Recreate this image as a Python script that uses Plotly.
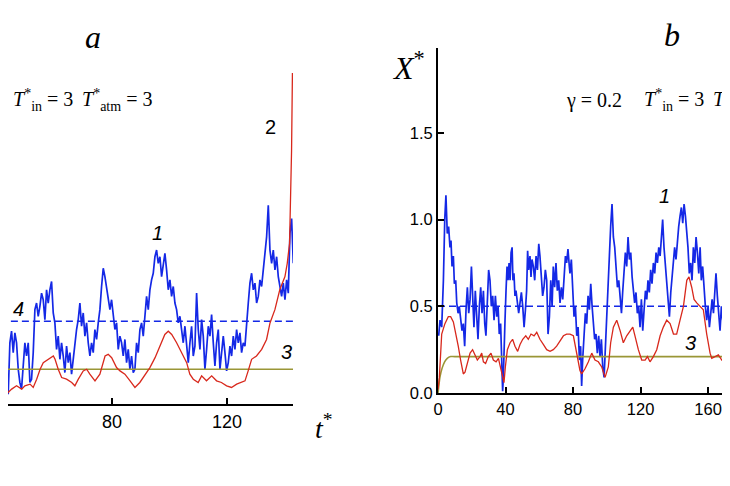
import numpy as np
import plotly.graph_objects as go

# ---------------- panel a (left, cropped) ----------------
# curve 1: X*(t), noisy, sampled on a uniform time grid
blue_a_t0, blue_a_t1 = 41.0, 143.1
blue_a_y = [
    0.45, 0.31, 0.21, 0.13, 0.07, 0.06, 0.37, 0.44, 0.31, 0.43,
    0.37, 0.21, 0.13, 0.09, 0.25, 0.37, 0.29, 0.37, 0.13, 0.15,
    0.31, 0.57, 0.61, 0.53, 0.59, 0.67, 0.63, 0.51, 0.69, 0.61,
    0.69, 0.74, 0.55, 0.49, 0.33, 0.41, 0.27, 0.37, 0.29, 0.19,
    0.35, 0.25, 0.31, 0.18, 0.27, 0.37, 0.45, 0.51, 0.61, 0.47,
    0.55, 0.41, 0.49, 0.37, 0.29, 0.37, 0.31, 0.45, 0.39, 0.49,
    0.57, 0.71, 0.82, 0.77, 0.71, 0.65, 0.57, 0.63, 0.53, 0.45,
    0.49, 0.33, 0.41, 0.37, 0.29, 0.39, 0.25, 0.33, 0.21, 0.29,
    0.19, 0.21, 0.37, 0.31, 0.45, 0.49, 0.41, 0.55, 0.65, 0.57,
    0.69, 0.75, 0.79, 0.89, 0.93, 0.85, 0.89, 0.77, 0.85, 0.91,
    0.81, 0.69, 0.75, 0.65, 0.71, 0.61, 0.57, 0.49, 0.53, 0.43,
    0.37, 0.47, 0.33, 0.25, 0.37, 0.47, 0.29, 0.35, 0.67, 0.45,
    0.33, 0.51, 0.41, 0.21, 0.33, 0.47, 0.41, 0.54, 0.37, 0.23,
    0.37, 0.45, 0.21, 0.31, 0.41, 0.31, 0.20, 0.25, 0.35, 0.29,
    0.41, 0.33, 0.45, 0.37, 0.43, 0.31, 0.37, 0.35, 0.51, 0.61,
    0.73, 0.79, 0.69, 0.73, 0.61, 0.65, 0.75, 0.71, 0.81, 0.91,
    1.01, 1.20, 0.93, 0.85, 0.93, 0.81, 0.89, 0.77, 0.71, 0.65,
    0.73, 0.63, 0.75, 0.67, 1.03, 1.12, 0.85,
]
blue_a_t = np.linspace(blue_a_t0, blue_a_t1, len(blue_a_y))

# curve 2
red_a_t = [
    41.0, 42.2, 43.4, 43.9, 45.1, 46.8, 48.6, 49.7, 51.5, 52.6,
    53.8, 55.0, 56.1, 58.4, 59.6, 60.2, 61.3, 62.5, 64.2, 66.0,
    67.1, 68.3, 70.0, 71.2, 72.3, 74.1, 75.8, 77.6, 78.7, 79.9,
    81.6, 82.8, 84.5, 86.3, 88.0, 89.7, 91.5, 93.2, 95.0, 96.7,
    98.4, 99.6, 100.8, 102.5, 104.2, 106.0, 107.1, 108.3, 110.0, 111.2,
    112.9, 114.7, 116.4, 118.1, 119.9, 121.6, 123.4, 125.1, 126.3, 127.4,
    128.6, 130.3, 132.1, 133.8, 135.0, 136.7, 138.4, 140.2, 141.0, 141.8,
    142.2, 142.5, 142.8,
]
red_a_y = [
    0.22, 0.17, 0.09, 0.07, 0.09, 0.11, 0.09, 0.11, 0.12, 0.10,
    0.15, 0.21, 0.25, 0.28, 0.29, 0.27, 0.21, 0.16, 0.15, 0.13,
    0.11, 0.15, 0.20, 0.21, 0.18, 0.14, 0.18, 0.29, 0.30, 0.28,
    0.22, 0.20, 0.18, 0.14, 0.10, 0.13, 0.18, 0.22, 0.28, 0.35,
    0.42, 0.44, 0.42, 0.37, 0.31, 0.25, 0.18, 0.15, 0.13, 0.17,
    0.14, 0.17, 0.14, 0.13, 0.11, 0.10, 0.12, 0.13, 0.14, 0.20,
    0.27, 0.29, 0.33, 0.39, 0.49, 0.57, 0.69, 0.77, 0.85, 0.97,
    1.23, 1.53, 2.0,
]

# curves 3 and 4 (levels)
level3_a_t = [41.0, 143.0]
level3_a_y = [0.21, 0.21]
level4_a_t = [41.0, 143.0]
level4_a_y = [0.5, 0.5]

# ---------------- panel b (right, cropped) ----------------
blue_b_t = [
    0.4, 1.2, 2.2, 3.2, 4.0, 4.7, 5.5, 6.3, 7.1, 7.7,
    8.3, 9.1, 9.7, 10.5, 11.1, 11.9, 12.6, 13.4, 14.2, 15.0,
    15.8, 16.6, 17.4, 18.2, 19.0, 19.8, 20.5, 21.3, 22.1, 22.9,
    23.7, 24.5, 25.3, 26.1, 26.9, 27.7, 28.4, 29.2, 30.0, 30.8,
    31.6, 32.4, 33.2, 34.0, 34.8, 35.6, 36.3, 37.1, 37.9, 38.3,
    38.7, 39.1, 39.7, 40.3, 40.9, 41.5, 42.1, 42.7, 43.3, 43.9,
    44.4, 45.0, 45.6, 46.2, 47.0, 47.8, 48.6, 49.4, 50.2, 51.0,
    51.8, 52.5, 53.1, 53.7, 54.5, 55.1, 55.7, 56.5, 57.3, 58.1,
    58.9, 59.7, 60.4, 61.2, 62.0, 62.8, 63.6, 64.4, 65.2, 66.0,
    66.8, 67.6, 68.3, 69.1, 69.9, 70.7, 71.5, 72.3, 73.1, 73.9,
    74.7, 75.5, 76.2, 77.0, 77.8,
    78.2, 79.0, 79.8, 80.6, 81.4, 82.2, 83.0, 83.8, 84.5, 85.1,
    85.7, 86.5, 87.3, 88.1, 88.9, 89.7, 90.5, 91.3, 92.0, 92.8,
    93.6, 94.4, 95.2, 96.0, 96.8, 97.6, 98.4, 99.2, 100.0, 100.7,
    101.5, 102.3, 103.1, 103.9, 104.7, 105.5, 106.3, 107.1, 107.9, 108.7,
    109.4, 110.2, 111.0, 111.8, 112.6, 113.4, 114.2, 115.0, 115.7, 116.5,
    117.3, 118.1, 118.9, 119.7, 120.5, 121.3, 122.1, 122.9, 123.7, 124.4,
    125.2, 126.0, 126.8, 127.6, 128.4, 129.2, 130.0, 130.8, 131.6, 132.3,
    133.1, 133.9, 134.7, 135.5, 136.3, 137.1, 137.9, 138.7, 139.5, 140.2,
    141.0, 141.8, 142.6, 143.4, 144.2, 145.0, 145.8, 146.6, 147.4, 148.1,
    148.9, 149.7, 150.5, 151.3, 152.1, 152.9, 153.7, 154.5, 155.3, 156.0,
    156.8, 157.6, 158.4, 159.2, 160.0, 160.8, 161.6, 162.4, 163.2, 163.9,
    164.7, 165.5, 166.3, 167.1, 167.9, 168.7, 169.5, 170.3, 171.1, 171.9,
    172.6,
]
blue_b_y = [
    0.33, 0.42, 0.38, 0.65, 1.00, 1.14, 0.92, 0.96, 0.84, 0.88,
    0.73, 0.79, 0.63, 0.65, 0.52, 0.46, 0.50, 0.42, 0.36, 0.40,
    0.27, 0.48, 0.61, 0.46, 0.54, 0.73, 0.56, 0.38, 0.59, 0.42,
    0.31, 0.50, 0.61, 0.46, 0.59, 0.40, 0.33, 0.52, 0.71, 0.65,
    0.50, 0.56, 0.42, 0.56, 0.44, 0.50, 0.34, 0.40, 0.19, 0.01,
    0.09, 0.27, 0.42, 0.59, 0.73, 0.65, 0.75, 0.65, 0.81, 0.84,
    0.65, 0.69, 0.56, 0.59, 0.52, 0.46, 0.52, 0.58, 0.50, 0.38,
    0.48, 0.59, 0.82, 0.71, 0.79, 0.67, 0.77, 0.73, 0.65, 0.79,
    0.71, 0.86, 0.79, 0.65, 0.56, 0.61, 0.71, 0.65, 0.34, 0.44,
    0.65, 0.50, 0.73, 0.61, 0.75, 0.59, 0.65, 0.52, 0.61, 0.54,
    0.67, 0.79, 0.75, 0.83, 0.73,
    0.69, 0.77, 0.59, 0.44, 0.50, 0.33, 0.38, 0.19, 0.27, 0.04,
    0.19, 0.33, 0.46, 0.40, 0.56, 0.48, 0.63, 0.50, 0.40, 0.31,
    0.34, 0.23, 0.33, 0.21, 0.31, 0.15, 0.09, 0.27, 0.46, 0.65,
    0.84, 0.96, 1.09, 0.90, 0.84, 0.71, 0.61, 0.65, 0.54, 0.46,
    0.58, 0.69, 0.81, 0.73, 0.90, 0.77, 0.81, 0.67, 0.59, 0.52,
    0.58, 0.46, 0.50, 0.38, 0.54, 0.36, 0.48, 0.59, 0.54, 0.65,
    0.58, 0.71, 0.63, 0.75, 0.69, 0.81, 0.75, 0.84, 0.79, 0.88,
    1.00, 0.84, 0.75, 0.65, 0.56, 0.44, 0.58, 0.69, 0.75, 0.84,
    0.77, 0.88, 0.96, 1.02, 1.07, 0.98, 1.09, 1.02, 0.94, 0.84,
    0.69, 0.75, 0.65, 0.84, 0.75, 0.90, 0.81, 0.69, 0.84, 0.65,
    0.73, 0.59, 0.50, 0.42, 0.50, 0.38, 0.46, 0.54, 0.46, 0.59,
    0.69, 0.56, 0.46, 0.36, 0.50, 0.42, 0.54, 0.61, 0.46, 0.56,
    0.63,
]

red_b_t = [
    0.0, 0.8, 2.2, 4.1, 6.1, 7.5, 9.1, 10.7, 12.0, 13.4,
    15.0, 16.0, 17.4, 19.0, 20.5, 21.9, 23.3, 24.9, 25.9, 26.9,
    28.2, 29.8, 31.4, 32.8, 34.4, 35.8, 37.1, 38.3, 39.1, 39.9,
    41.1, 42.7, 44.2, 45.6, 47.2, 48.6, 50.2, 52.0, 53.5, 55.1,
    56.9, 58.5, 60.4, 62.4, 64.4, 66.4, 68.3, 70.3, 72.3, 74.3,
    76.2, 78.2, 80.2, 82.2, 84.1, 85.1, 87.1, 89.1, 91.1, 93.0,
    95.0, 97.0, 99.0, 100.9, 102.3, 103.9, 105.9, 107.9, 109.8, 111.8,
    113.8, 115.4, 116.7, 118.7, 120.7, 122.7, 124.1, 125.6, 127.6, 129.6,
    131.6, 133.5, 135.5, 137.5, 139.5, 141.4, 143.4, 145.4, 147.4, 148.7,
    150.3, 151.7, 153.3, 155.3, 157.2, 159.2, 161.2, 162.2, 164.2, 166.1,
    168.1, 170.1, 172.1, 173.1,
]
red_b_y = [
    0.02, 0.09, 0.34, 0.40, 0.44, 0.44, 0.41, 0.34, 0.27, 0.19,
    0.11, 0.12, 0.18, 0.23, 0.25, 0.22, 0.19, 0.21, 0.23, 0.18,
    0.17, 0.21, 0.23, 0.19, 0.18, 0.20, 0.15, 0.09, 0.06, 0.15,
    0.25, 0.29, 0.31, 0.27, 0.24, 0.28, 0.31, 0.33, 0.31, 0.34,
    0.33, 0.35, 0.31, 0.28, 0.25, 0.24, 0.25, 0.27, 0.30, 0.33,
    0.34, 0.34, 0.33, 0.23, 0.13, 0.11, 0.14, 0.18, 0.23, 0.19,
    0.18, 0.15, 0.09, 0.15, 0.29, 0.38, 0.42, 0.36, 0.29, 0.33,
    0.36, 0.38, 0.33, 0.25, 0.19, 0.19, 0.21, 0.18, 0.21, 0.25,
    0.33, 0.38, 0.42, 0.40, 0.34, 0.34, 0.42, 0.50, 0.65, 0.67,
    0.61, 0.54, 0.52, 0.50, 0.48, 0.34, 0.23, 0.20, 0.21, 0.22,
    0.19, 0.21, 0.23, 0.24,
]

level3_b_t = [0.0, 0.6, 1.2, 2.4, 4.0, 5.5, 7.5, 10.0, 173.1]
level3_b_y = [0.0, 0.05, 0.094, 0.142, 0.181, 0.200, 0.21, 0.21, 0.21]
level4_b_t = [0.0, 173.1]
level4_b_y = [0.5, 0.5]

xticks_a = [40, 80, 120]
xticks_b = [0, 40, 80, 120, 160]
yticks_b = [0.0, 0.5, 1.0, 1.5]
yticklabels_b = ["0.0", "0.5", "1.0", "1.5"]

# the page puts the plot 8px in from the top-left corner of the window,
# so the figure is a bit smaller (no scrollbars) and positions are window pixels
PAGE_W, OFF = 730, 8
W, H = PAGE_W - OFF, 466
BLUE = "#1428e6"
RED = "#d8281c"
OLIVE = "#9a9636"
SANS = "Liberation Sans, Arial, sans-serif"
SERIF = "Liberation Serif, Times New Roman, serif"


def px(x):
    return (x - OFF) / W


def py(y):
    return 1 - (y - OFF) / H


# panel a: t=80 at x=112, 2.875 px per unit; left edge of the window is visible start
a_left_t = 80 - (112 - OFF) / 2.875

fig = go.Figure()

for t, y, ax in [(blue_a_t, blue_a_y, ("x", "y")), (blue_b_t, blue_b_y, ("x2", "y2"))]:
    fig.add_trace(go.Scatter(x=t, y=y, mode="lines", xaxis=ax[0], yaxis=ax[1],
                             line=dict(color=BLUE, width=1.7)))

for t, y, ax in [(level4_a_t, level4_a_y, ("x", "y")), (level4_b_t, level4_b_y, ("x2", "y2"))]:
    fig.add_trace(go.Scatter(x=t, y=y, mode="lines", xaxis=ax[0], yaxis=ax[1],
                             line=dict(color=BLUE, width=1.4, dash="7px,4px")))

fig.add_trace(go.Scatter(x=level3_a_t, y=level3_a_y, mode="lines", xaxis="x", yaxis="y",
                         line=dict(color=OLIVE, width=1.6)))
fig.add_trace(go.Scatter(x=level3_b_t, y=level3_b_y, mode="lines", xaxis="x2", yaxis="y2",
                         line=dict(color=OLIVE, width=1.6, shape="spline")))

for t, y, ax in [(red_a_t, red_a_y, ("x", "y")), (red_b_t, red_b_y, ("x2", "y2"))]:
    fig.add_trace(go.Scatter(x=t, y=y, mode="lines", xaxis=ax[0], yaxis=ax[1],
                             line=dict(color=RED, width=1.3)))

axis_common = dict(
    showgrid=False, zeroline=False, showline=True, linecolor="black", linewidth=2,
    ticks="inside", ticklen=6, tickwidth=1.5, tickcolor="black", automargin=False,
)

fig.update_layout(
    width=W, height=H,
    margin=dict(l=0, r=0, t=0, b=0, autoexpand=False),
    paper_bgcolor="white", plot_bgcolor="white",
    showlegend=False,
    xaxis=dict(domain=[0, px(293)], range=[a_left_t, 143.0], anchor="y",
               tickvals=xticks_a, tickfont=dict(family=SANS, size=18, color="black"),
               **axis_common),
    yaxis=dict(domain=[py(404), py(73)], range=[0, 2.0], anchor="x", visible=False),
    xaxis2=dict(domain=[px(438), 1.0], range=[0, 173.0], anchor="y2",
                tickvals=xticks_b, tickfont=dict(family=SANS, size=16.5, color="black"),
                **axis_common),
    yaxis2=dict(domain=[py(393), py(48)], range=[0, 1.99], anchor="x2",
                tickvals=yticks_b, ticktext=yticklabels_b,
                tickfont=dict(family=SANS, size=16.5, color="black"),
                **axis_common),
)


def note(x, y, text, size, family=SANS, italic=False, xanchor="center"):
    fig.add_annotation(
        x=px(x), y=py(y), xref="paper", yref="paper", text=text, showarrow=False,
        xanchor=xanchor, yanchor="middle",
        font=dict(family=family, size=size, color="black", style="italic" if italic else "normal"),
    )


# panel letters and axis titles
note(93, 37, "a", 32, SERIF, italic=True)
note(672, 35, "b", 32, SERIF, italic=True)
note(408, 66, "<i>X</i><sup>*</sup>", 32, SERIF)
note(324, 426, "<i>t</i><sup>*</sup>", 28, SERIF)

# curve numbers
note(157, 233, "1", 20, SANS, italic=True)
note(270, 127, "2", 20, SANS)
note(286, 352, "3", 20, SANS, italic=True)
note(18, 309, "4", 20, SANS, italic=True)
note(664, 196, "1", 20, SANS, italic=True)
note(690, 343, "3", 20, SANS, italic=True)

# parameter lines
T_IN = "<i>T</i><sup>*</sup><sub>in</sub>"
T_ATM = "<i>T</i><sup>*</sup><sub>atm</sub>"
note(11, 100, T_IN + " = 3", 20, SERIF, xanchor="left")
note(80, 100, T_ATM + " = 3", 20, SERIF, xanchor="left")
note(564, 100, "γ = 0.2", 20, SERIF, xanchor="left")
note(642, 100, T_IN + " = 3", 20, SERIF, xanchor="left")
note(711, 100, T_ATM + " = 3", 20, SERIF, xanchor="left")

fig.write_html("out.html")
